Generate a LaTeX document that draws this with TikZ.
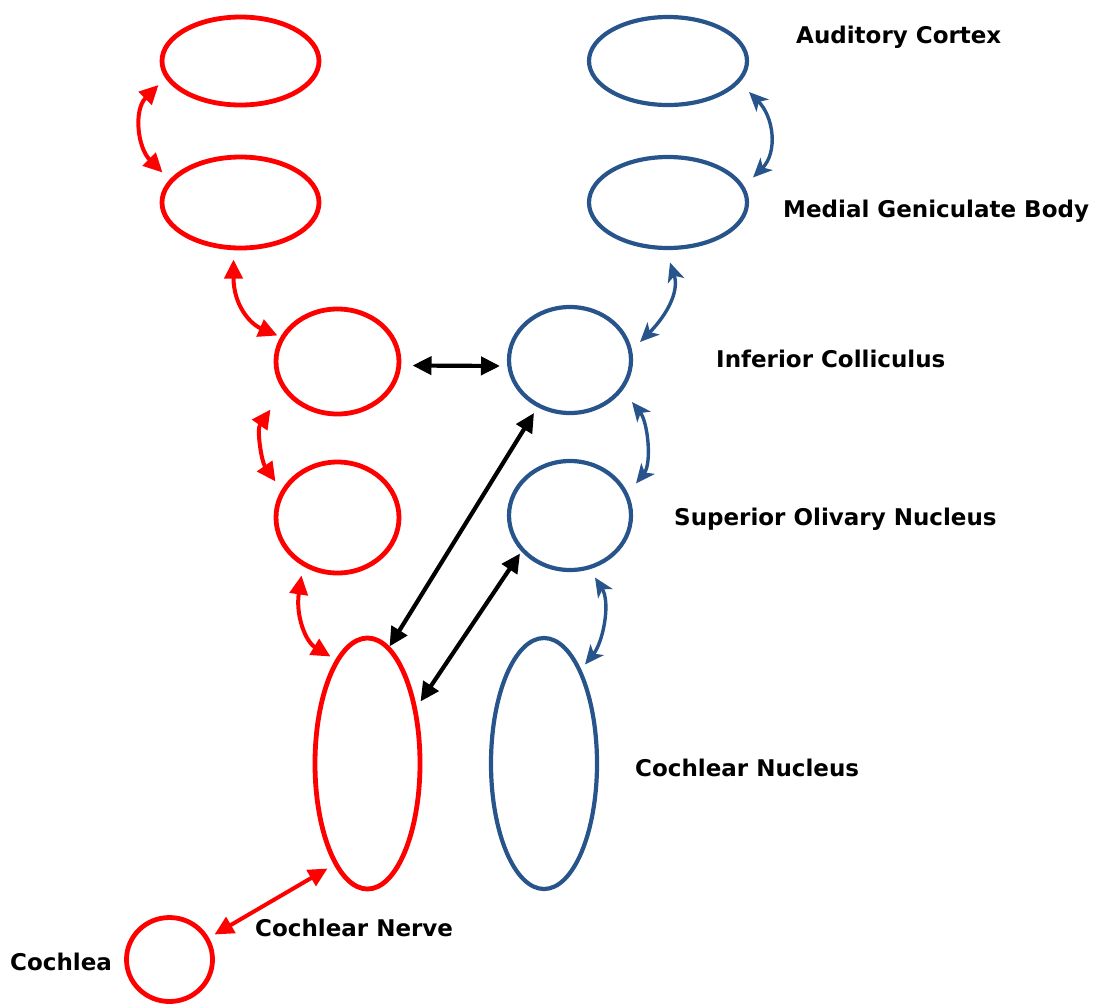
\documentclass[tikz,border=0pt]{standalone}
\usepackage{fontspec}
\setmainfont{DejaVu Sans}
\usetikzlibrary{shapes.geometric,arrows.meta,calc}
\definecolor{leftred}{RGB}{255,0,0}
\definecolor{rightblue}{RGB}{40,84,140}
\begin{document}
\begin{tikzpicture}[x=1pt,y=-1pt,
  redring/.style={ellipse,draw=leftred,line width=4.8pt,inner sep=0pt},
  bluering/.style={ellipse,draw=rightblue,line width=4.2pt,inner sep=0pt},
  redlink/.style={draw=leftred,line width=4pt,{Triangle[length=19pt,width=18pt]}-{Triangle[length=19pt,width=18pt]}},
  bluelink/.style={draw=rightblue,line width=3.4pt,{Stealth[length=19pt,width=17pt,inset=5pt]}-{Stealth[length=19pt,width=17pt,inset=5pt]}},
  blacklink/.style={draw=black,line width=4.2pt,{Triangle[length=19pt,width=18pt]}-{Triangle[length=19pt,width=18pt]}},
  lbl/.style={font=\bfseries\fontsize{23}{26}\selectfont,anchor=west,inner sep=0pt}]
\useasboundingbox (0,0) rectangle (1094,1005);

% left pathway
\node[redring,minimum width=157pt,minimum height=88pt] (r1) at (240.5,61) {};
\node[redring,minimum width=157pt,minimum height=91pt] (r2) at (240.5,202.5) {};
\node[redring,minimum width=123pt,minimum height=105pt] (r3) at (337.5,361.5) {};
\node[redring,minimum width=123pt,minimum height=111pt] (r4) at (337.5,517.5) {};
\node[redring,minimum width=105pt,minimum height=251pt] (r5) at (367.5,763.5) {};
\node[redring,minimum width=86pt,minimum height=84pt] (coch) at (169.5,959.5) {};

% right pathway
\node[bluering,minimum width=158pt,minimum height=88pt] (b1) at (668,61) {};
\node[bluering,minimum width=158pt,minimum height=91pt] (b2) at (668,202.5) {};
\node[bluering,minimum width=122pt,minimum height=106pt] (b3) at (570,360) {};
\node[bluering,minimum width=122pt,minimum height=109pt] (b4) at (570,515.5) {};
\node[bluering,minimum width=106pt,minimum height=251pt] (b5) at (544,763.5) {};

% labels
\node[lbl] (lac) at (796,37) {Auditory Cortex};
\node[lbl] (lmg) at (783,211) {Medial Geniculate Body};
\node[lbl] (lic) at (716,359) {Inferior Colliculus};
\node[lbl] (lso) at (674,519) {Superior Olivary Nucleus};
\node[lbl] (lcn) at (635,768) {Cochlear Nucleus};
\node[lbl] (lnv) at (255,928) {Cochlear Nerve};
\node[lbl] (lco) at (10,962) {Cochlea};

% left connectors
\draw[redlink] ($(r1)+(-82,24)$) .. controls +(-25,25) and +(-25,-25) .. ($(r2)+(-78,-30)$);
\draw[redlink] ($(r2)+(-7,57)$) .. controls +(0,45) and +(-28,-12) .. ($(r3)+(-60,-26)$);
\draw[redlink] ($(r3)+(-67,48)$) .. controls +(-14,20) and +(-14,-20) .. ($(r4)+(-62,-36)$);
\draw[redlink] ($(r4)+(-36,58)$) .. controls +(-6,40) and +(-25,-15) .. ($(r5)+(-37,-107)$);
\draw[redlink] ($(coch)+(45,-25)$) -- ($(r5)+(-40,105)$);

% right connectors
\draw[bluelink] ($(b1)+(81,31)$) .. controls +(25,25) and +(25,-25) .. ($(b2)+(85,-25)$);
\draw[bluelink] ($(b2)+(2,60)$) .. controls +(10,30) and +(25,-25) .. ($(b3)+(70,-18)$);
\draw[bluelink] ($(b3)+(62,42)$) .. controls +(16,20) and +(16,-20) .. ($(b4)+(66,-32)$);
\draw[bluelink] ($(b4)+(25,62)$) .. controls +(16,25) and +(18,-22) .. ($(b5)+(41,-99)$);

% crossing connectors
\draw[blacklink] ($(r3)+(75,4)$) -- ($(b3)+(-70,6)$);
\draw[blacklink] ($(b3)+(-36,53)$) -- ($(r5)+(22,-117)$);
\draw[blacklink] ($(b4)+(-50,38)$) -- ($(r5)+(53,-62)$);
\end{tikzpicture}
\end{document}
